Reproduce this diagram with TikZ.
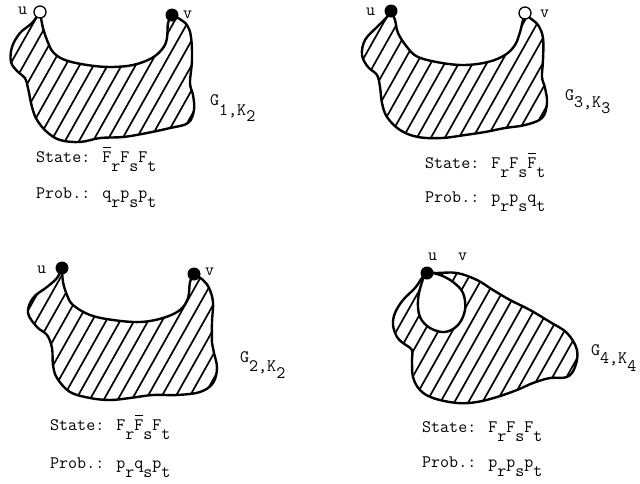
\documentclass[tikz,border=0pt]{standalone}
\usepackage{fontspec}
\newcommand\subdn[1]{\raisebox{-9pt}{#1}}
\newcommand\barF{\makebox[0pt][l]{\hspace{0.06em}\raisebox{14pt}{\rule{0.42em}{0.6pt}}}F}
\begin{document}
\begin{tikzpicture}[x=1pt,y=-1pt,line join=round,line cap=round]
	\tikzset{every node/.style={font=\ttfamily\fontsize{17.5}{20}\selectfont,inner sep=0pt},
		txt/.style={anchor=base west},
		vopen/.style={circle,draw,fill=white,line width=1.3pt,minimum size=12pt},
		vfull/.style={circle,fill=black,minimum size=13pt},
		rim/.style={line width=2.4pt},
		hatch/.style={line width=1.7pt}}
	\useasboundingbox (0,0) rectangle (640,483);
	% G1, K2
	\def\blobA{plot[smooth,tension=0.6] coordinates {(40,12) (32,23) (20,33) (12,47) (11,62) (18,72) (25,78) (28,88) (32,107) (37,120) (47,132) (60,140) (80,142) (100,138) (123,137) (147,133) (170,128) (188,123) (194,110) (193,95) (190,83) (192,60) (191,37) (187,25) (178,18) (172,15)}
		-- plot[smooth,tension=0.6] coordinates {(172,15) (168,23) (167,38) (163,48) (152,58) (133,65) (110,67) (87,65) (65,60) (53,52) (47,40) (43,28) (41,18) (40,12)} -- cycle}
	\begin{scope}
		\clip \blobA;
		\foreach \x in {-80,-66,...,220}
		\draw[hatch] (\x,150)--++(90,-160);
	\end{scope}
	\draw[rim] \blobA;
	\node[vopen] (u1) at (40,12) {};
	\node[vfull] (v1) at (172,15) {};
	\node[txt] (lu1) at (18,14) {u};
	\node[txt] (lv1) at (183,18) {v};
	\node[txt] (gk1) at (210,115) {\raisebox{10pt}{G}1,K\raisebox{-6pt}{2}};
	\node[txt] (st1) at (36,162) {State: \barF\subdn{r}F\subdn{s}F\subdn{t}};
	\node[txt] (pr1) at (36,198) {Prob.: q\subdn{r}p\subdn{s}p\subdn{t}};
	% G3, K3
	\def\blobB{plot[smooth,tension=0.6] coordinates {(391,11) (387,17) (377,27) (365,40) (362,55) (368,67) (377,75) (380,87) (382,103) (387,117) (400,130) (418,137) (442,138) (465,135) (485,132) (505,128) (525,125) (542,118) (547,103) (545,88) (542,77) (543,60) (543,38) (538,25) (530,18) (525,13)}
		-- plot[smooth,tension=0.6] coordinates {(525,13) (523,20) (520,32) (515,45) (505,55) (488,62) (465,65) (442,63) (418,57) (407,47) (398,33) (395,20) (391,11)} -- cycle}
	\begin{scope}
		\clip \blobB;
		\foreach \x in {270,284,...,570}
		\draw[hatch] (\x,150)--++(90,-160);
	\end{scope}
	\draw[rim] \blobB;
	\node[vfull] (u2) at (391,11) {};
	\node[vopen] (v2) at (525,13) {};
	\node[txt] (lu2) at (366,15) {u};
	\node[txt] (lv2) at (540,17) {v};
	\node[txt] (gk2) at (565,107) {\raisebox{7pt}{G}3,K\raisebox{-6pt}{3}};
	\node[txt] (st2) at (425,168) {State: F\subdn{r}F\subdn{s}\barF\subdn{t}};
	\node[txt] (pr2) at (425,202) {Prob.: p\subdn{r}p\subdn{s}q\subdn{t}};
	% G2, K2
	\def\blobC{plot[smooth,tension=0.6] coordinates {(62,268) (57,278) (47,287) (33,298) (28,313) (37,327) (47,335) (52,348) (53,365) (57,378) (70,392) (90,398) (110,400) (130,398) (153,395) (177,395) (200,392) (213,383) (217,368) (214,353) (212,343) (212,322) (213,302) (209,288) (203,280) (194,274)}
		-- plot[smooth,tension=0.6] coordinates {(194,274) (190,282) (188,298) (180,310) (163,318) (140,322) (113,320) (90,315) (73,305) (67,295) (63,282) (62,268)} -- cycle}
	\begin{scope}
		\clip \blobC;
		\foreach \x in {-70,-56,...,240}
		\draw[hatch] (\x,410)--++(90,-160);
	\end{scope}
	\draw[rim] \blobC;
	\node[vfull] (u3) at (62,268) {};
	\node[vfull] (v3) at (194,274) {};
	\node[txt] (lu3) at (37,273) {u};
	\node[txt] (lv3) at (205,275) {v};
	\node[txt] (gk3) at (240,371) {\raisebox{9pt}{G}2,K\raisebox{-7pt}{2}};
	\node[txt] (st3) at (50,430) {State: F\subdn{r}\barF\subdn{s}F\subdn{t}};
	\node[txt] (pr3) at (50,468) {Prob.: p\subdn{r}q\subdn{s}p\subdn{t}};
	% G4, K4
	\def\blobD{plot[smooth cycle,tension=0.6] coordinates {(427,273) (437,273) (457,273) (477,280) (493,290) (510,300) (530,310) (550,322) (567,333) (577,350) (575,367) (567,377) (550,378) (533,383) (517,390) (497,397) (477,402) (457,403) (433,398) (420,390) (413,377) (412,360) (412,350) (403,343) (397,337) (393,325) (395,313) (403,300) (415,288) (422,278)}}
	\def\holeD{plot[smooth cycle,tension=0.6] coordinates {(427,273) (422,282) (418,300) (420,317) (430,328) (445,332) (458,325) (465,310) (463,293) (453,282) (440,275)}}
	\begin{scope}
		\clip \blobD;
		\foreach \x in {310,324,...,600}
		\draw[hatch] (\x,410)--++(90,-160);
	\end{scope}
	\fill[white] \holeD;
	\draw[rim] \blobD;
	\draw[rim] \holeD;
	\node[vfull] (w4) at (427,273) {};
	\node[txt] (lu4) at (428,260) {u};
	\node[txt] (lv4) at (458,260) {v};
	\node[txt] (gk4) at (591,363) {\raisebox{8pt}{G}4,K\raisebox{-8pt}{4}};
	\node[txt] (st4) at (422,432) {State: F\subdn{r}F\subdn{s}F\subdn{t}};
	\node[txt] (pr4) at (422,467) {Prob.: p\subdn{r}p\subdn{s}p\subdn{t}};
\end{tikzpicture}
\end{document}
